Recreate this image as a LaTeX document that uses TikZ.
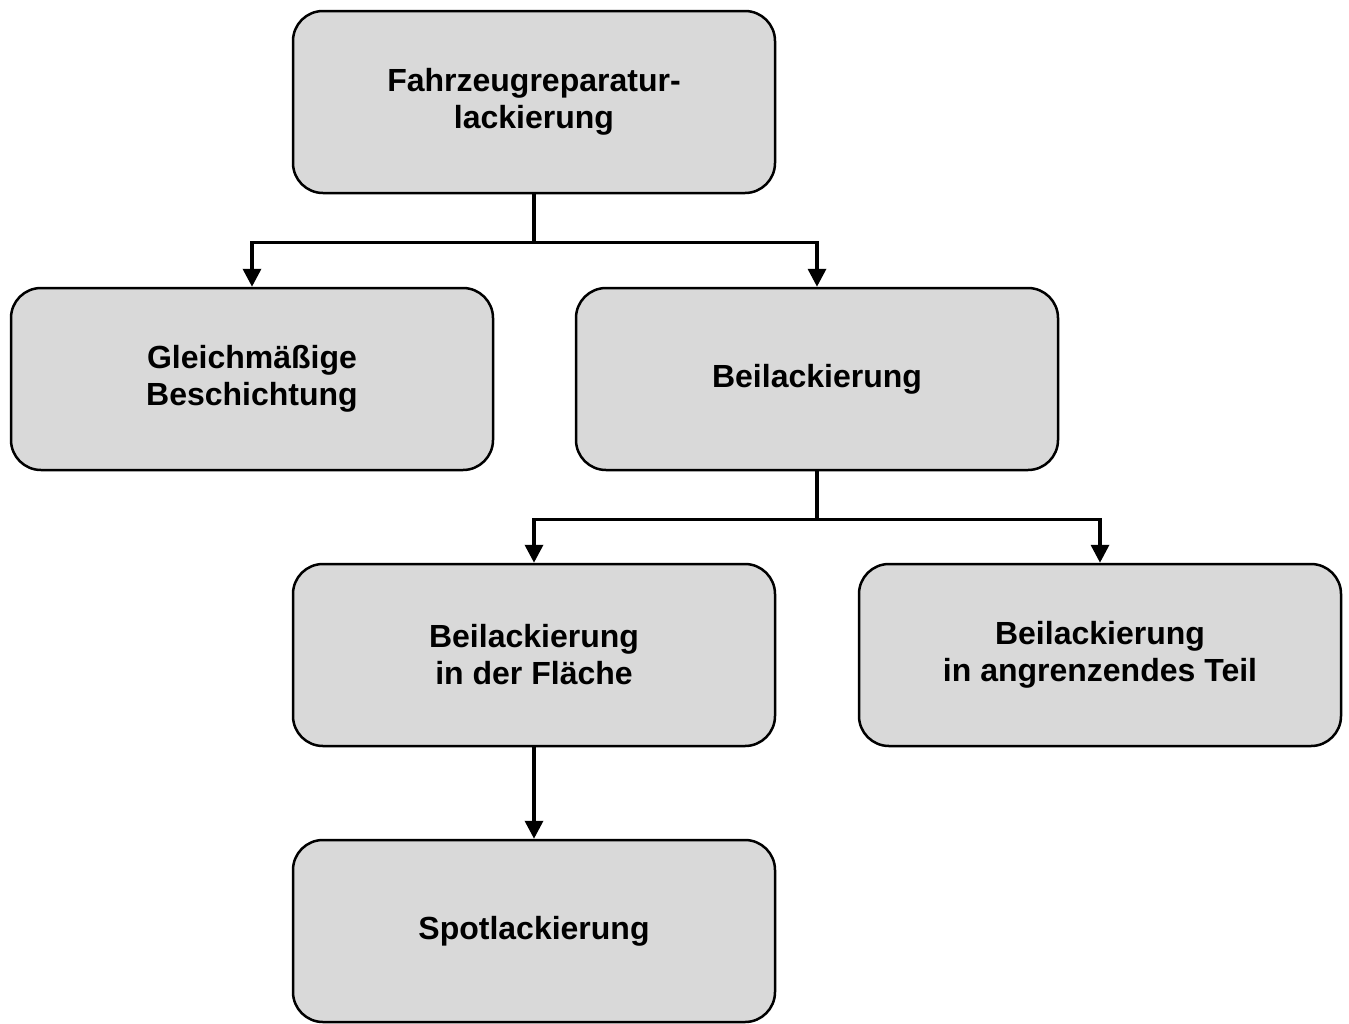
\documentclass[tikz,border=0pt]{standalone}
\usepackage{fontspec}
\setmainfont{Liberation Sans}
\usepackage{tikz}
\usetikzlibrary{arrows.meta}
\definecolor{boxgray}{HTML}{D9D9D9}

\begin{document}
\begin{tikzpicture}[
    x=1pt, y=-1pt,
    stage/.style={draw, line width=2.5pt, rectangle, rounded corners=30pt, fill=boxgray,
      minimum width=482pt, minimum height=182pt, align=center,
      font=\fontsize{32}{37}\selectfont\bfseries},
    conn/.style={line width=3.5pt, -{Triangle[width=18pt,length=18pt]}}
  ]
    \useasboundingbox (0,0) rectangle (1349,1023);

    % Boxes
    \node[stage] (rep) at (534, 102) {Fahrzeugreparatur-\\lackierung};
    \node[stage] (gleich) at (252, 379) {Gleichmäßige\\Beschichtung};
    \node[stage] (beil) at (817, 379) {Beilackierung};
    \node[stage] (flaeche) at (534, 655) {Beilackierung\\in der Fläche};
    \node[stage] (teil) at (1100, 655) {Beilackierung\\in angrenzendes Teil};
    \node[stage] (spot) at (534, 931) {Spotlackierung};

    % Connectors
    \draw[line width=3.5pt] (rep.south) -- ++(0,48) coordinate (b1);
    \draw[conn] (b1) -| (gleich.north);
    \draw[conn] (b1) -| (beil.north);

    \draw[line width=3.5pt] (beil.south) -- ++(0,48) coordinate (b2);
    \draw[conn] (b2) -| (flaeche.north);
    \draw[conn] (b2) -| (teil.north);

    \draw[conn] (flaeche.south) -- (spot.north);
  \end{tikzpicture}
\end{document}
